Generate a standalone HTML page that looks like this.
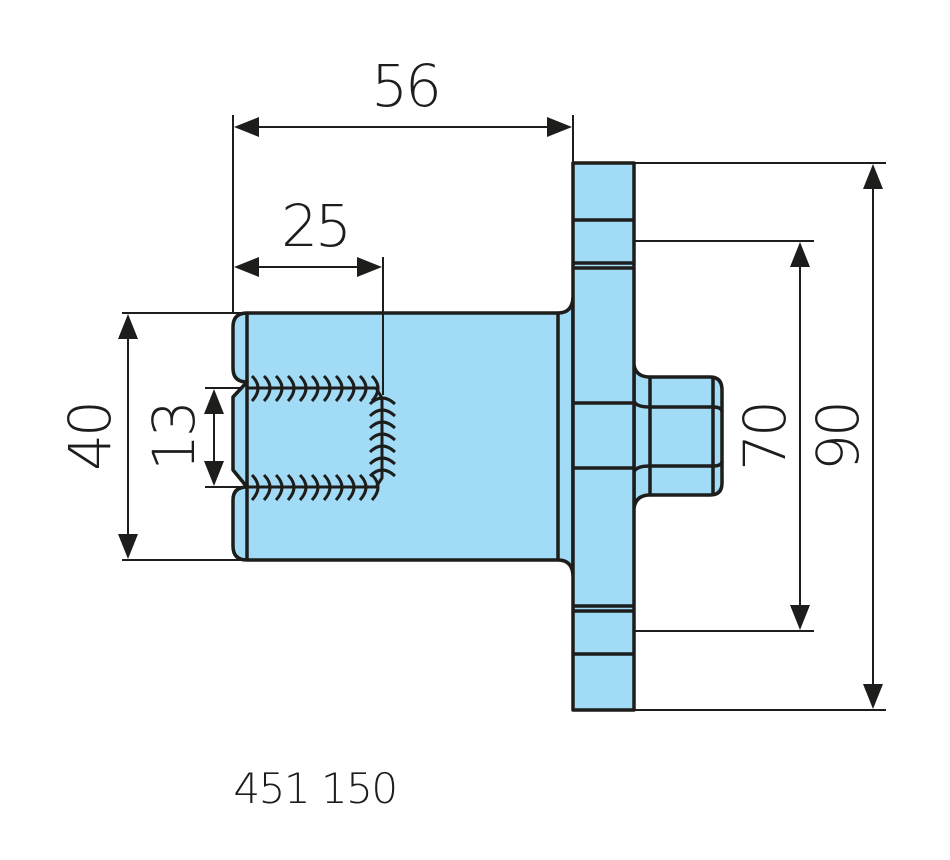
<!DOCTYPE html>
<html><head><meta charset="utf-8"><style>
html,body{margin:0;padding:0;background:#fff;width:950px;height:860px;overflow:hidden}
text{font-family:"DejaVu Sans","Liberation Sans",sans-serif;font-weight:200;fill:#1d1d1b}
</style></head><body>
<svg width="950" height="860" viewBox="0 0 950 860" xmlns="http://www.w3.org/2000/svg">
<g stroke="#1d1d1b" stroke-width="2" fill="none">
<line x1="233" y1="115" x2="233" y2="313"/>
<line x1="573" y1="115" x2="573" y2="163"/>
<line x1="122" y1="313" x2="250" y2="313"/>
<line x1="122" y1="560" x2="250" y2="560"/>
<line x1="205" y1="388" x2="250" y2="388"/>
<line x1="205" y1="487" x2="250" y2="487"/>
<line x1="634" y1="163" x2="886" y2="163"/>
<line x1="634" y1="710" x2="886" y2="710"/>
<line x1="634" y1="241" x2="814" y2="241"/>
<line x1="634" y1="631" x2="814" y2="631"/>
<line x1="240" y1="127" x2="566" y2="127"/>
<line x1="240" y1="267" x2="376" y2="267"/>
<line x1="128" y1="320" x2="128" y2="553"/>
<line x1="214" y1="395" x2="214" y2="480"/>
<line x1="800" y1="248" x2="800" y2="624"/>
<line x1="873" y1="170" x2="873" y2="703"/>
</g>
<g fill="#1d1d1b">
<polygon points="234,127 259,117 259,137"/><polygon points="572,127 547,117 547,137"/>
<polygon points="234,267 259,257 259,277"/><polygon points="382,267 357,257 357,277"/>
<polygon points="128,314 118,339 138,339"/><polygon points="128,559 118,534 138,534"/>
<polygon points="214,389 204,414 224,414"/><polygon points="214,486 204,461 224,461"/>
<polygon points="800,242 790,267 810,267"/><polygon points="800,630 790,605 810,605"/>
<polygon points="873,164 863,189 883,189"/><polygon points="873,709 863,684 883,684"/>
</g>
<g stroke="#1d1d1b" stroke-width="3.5" fill="#a2dbf6" stroke-linejoin="round">
<path d="M247,313 L558,313 Q572,313 573,298 L573,575 Q572,560 558,560 L247,560 Q233,560 233,546 L233,500 Q233,487 247,487 L233,470 L233,397 L247,382 Q233,382 233,368 L233,327 Q233,313 247,313 Z"/>
<line x1="247" y1="313" x2="247" y2="560"/>
<line x1="558" y1="313" x2="558" y2="560"/>
<path d="M634,365 Q636,377 650,377 L710,377 Q722,377 722,390 L722,483 Q722,495 710,495 L650,495 Q636,495 634,508 Z"/>
<line x1="650" y1="377" x2="650" y2="495"/>
<line x1="713" y1="377" x2="713" y2="495"/>
<path d="M634,401 Q636,407 650,407 L713,407 Q722,407 722,412" fill="none"/>
<path d="M634,472 Q636,466 650,466 L713,466 Q722,466 722,461" fill="none"/>
<rect x="573" y="163" width="61" height="547"/>
<line x1="573" y1="220" x2="634" y2="220"/>
<line x1="573" y1="263" x2="634" y2="263"/>
<line x1="573" y1="268" x2="634" y2="268"/>
<line x1="573" y1="403" x2="634" y2="403"/>
<line x1="573" y1="468" x2="634" y2="468"/>
<line x1="573" y1="606" x2="634" y2="606"/>
<line x1="573" y1="611" x2="634" y2="611"/>
<line x1="573" y1="654" x2="634" y2="654"/>
</g>
<line x1="383" y1="257" x2="383" y2="395" stroke="#1d1d1b" stroke-width="2"/>
<g stroke="#1d1d1b" stroke-width="3" fill="none">
<path d="M247,388 L376,388 L382,398 L382,478 L376,487 L247,487"/>
<path d="M252,376 q12,12 0,25 M264,376 q12,12 0,25 M276,376 q12,12 0,25 M288,376 q12,12 0,25 M300,376 q12,12 0,25 M312,376 q12,12 0,25 M324,376 q12,12 0,25 M336,376 q12,12 0,25 M348,376 q12,12 0,25 M360,376 q12,12 0,25 M372,376 q12,12 0,25"/>
<path d="M252,475 q12,12 0,25 M264,475 q12,12 0,25 M276,475 q12,12 0,25 M288,475 q12,12 0,25 M300,475 q12,12 0,25 M312,475 q12,12 0,25 M324,475 q12,12 0,25 M336,475 q12,12 0,25 M348,475 q12,12 0,25 M360,475 q12,12 0,25 M372,475 q12,12 0,25"/>
<path d="M370,404 q12,-12 25,0 M370,416 q12,-12 25,0 M370,428 q12,-12 25,0 M370,440 q12,-12 25,0 M370,452 q12,-12 25,0 M370,464 q12,-12 25,0 M370,476 q12,-12 25,0"/>
</g>
<text x="405" y="106" font-size="58" text-anchor="middle" letter-spacing="-3">56</text>
<text x="315" y="246" font-size="58" text-anchor="middle" letter-spacing="-3">25</text>
<text transform="translate(110,437) rotate(-90)" font-size="58" text-anchor="middle" letter-spacing="-3">40</text>
<text transform="translate(194,437) rotate(-90)" font-size="58" text-anchor="middle" letter-spacing="-3">13</text>
<text transform="translate(785,437) rotate(-90)" font-size="58" text-anchor="middle" letter-spacing="-3">70</text>
<text transform="translate(858,437) rotate(-90)" font-size="58" text-anchor="middle" letter-spacing="-3">90</text>
<text x="315" y="803" font-size="42" text-anchor="middle" letter-spacing="-1.5">451 150</text>
</svg>
</body></html>
